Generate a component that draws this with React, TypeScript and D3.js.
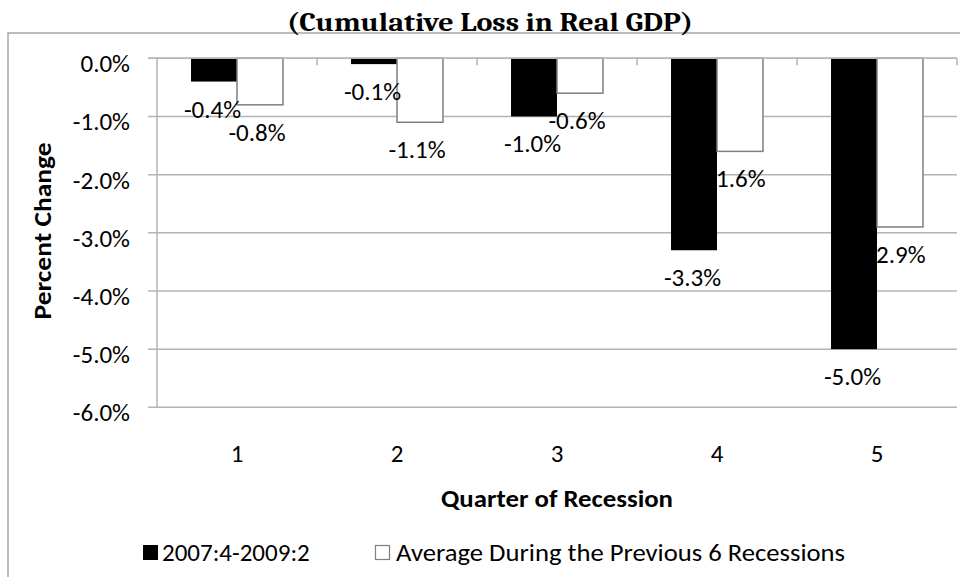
import React from "react";
import * as d3 from "d3";

// Quarters of the recession shown on the category axis
const quarters = ["1", "2", "3", "4", "5"];
// Cumulative change in real GDP (percent) for each series
const currentRecession = [-0.4, -0.1, -1.0, -3.3, -5.0];
const previousAverage = [-0.8, -1.1, -0.6, -1.6, -2.9];
const seriesNames = ["2007:4-2009:2", "Average During the Previous 6 Recessions"];
const yTicks = [0, -1, -2, -3, -4, -5, -6];

const W = 960;
const H = 577;
const FONT = "Carlito, Lato, 'Open Sans', sans-serif";
const TITLE_FONT = "Caladea, 'Liberation Serif', 'DejaVu Serif', serif";
const FS = 25;

export default function App() {
  const plot = { left: 157, right: 957, top: 58.3, bottom: 407.3 };

  const x0 = d3.scaleBand<string>().domain(quarters).range([plot.left, plot.right]).padding(0);
  const x1 = d3
    .scaleBand<string>()
    .domain(["cur", "avg"])
    .range([0, x0.bandwidth()])
    .paddingInner(0)
    .paddingOuter(0.74);
  const y = d3.scaleLinear().domain([-6, 0]).range([plot.bottom, plot.top]);

  const fmt = (v: number) => `${v.toFixed(1)}%`;

  const rows = quarters.map((q, i) => ({ q, cur: currentRecession[i], avg: previousAverage[i] }));

  const gridColor = "#b3b3b3";

  return (
    <svg
      width={W}
      height={H}
      viewBox={`0 0 ${W} ${H}`}
      style={{ position: "absolute", left: 0, top: 0, background: "#fff" }}
    >
      <rect x={0} y={0} width={W} height={H} fill="#fff" />
      {/* outer chart frame */}
      <path d={`M8,${H + 2} V33 H${W + 2}`} fill="none" stroke="#a6a6a6" strokeWidth={1.5} />

      {/* title */}
      <text
        x={490}
        y={31}
        textAnchor="middle"
        fontFamily={TITLE_FONT}
        fontWeight="bold"
        fontSize={27}
        textLength={406}
        lengthAdjust="spacingAndGlyphs"
        fill="#000"
      >
        (Cumulative Loss in Real GDP)
      </text>

      {/* horizontal gridlines and y tick labels */}
      {yTicks.map((t) => (
        <g key={t}>
          <line x1={148} x2={plot.right} y1={y(t)} y2={y(t)} stroke={gridColor} strokeWidth={1.5} />
          <text
            x={130}
            y={y(t) + 14}
            textAnchor="end"
            fontFamily={FONT}
            fontSize={FS}
            fill="#000"
          >
            {fmt(t)}
          </text>
        </g>
      ))}

      {/* vertical axis line */}
      <line x1={plot.left} x2={plot.left} y1={plot.top} y2={plot.bottom} stroke={gridColor} strokeWidth={1.5} />

      {/* category tick marks on the zero line */}
      {quarters.map((q) => {
        const xr = (x0(q) as number) + x0.bandwidth();
        return <line key={q} x1={xr} x2={xr} y1={y(0)} y2={y(0) + 7} stroke={gridColor} strokeWidth={1.5} />;
      })}

      {/* bars */}
      {rows.map((r) => {
        const bx = x0(r.q) as number;
        return (
          <g key={r.q}>
            <rect
              x={bx + (x1("cur") as number)}
              y={y(0)}
              width={x1.bandwidth()}
              height={y(r.cur) - y(0)}
              fill="#000"
            />
            <rect
              x={bx + (x1("avg") as number)}
              y={y(0)}
              width={x1.bandwidth()}
              height={y(r.avg) - y(0)}
              fill="#fff"
              stroke="#7f7f7f"
              strokeWidth={1.5}
            />
          </g>
        );
      })}

      {/* zero line drawn over bar tops */}
      <line x1={148} x2={plot.right} y1={y(0)} y2={y(0)} stroke={gridColor} strokeWidth={1.5} />

      {/* data labels */}
      {rows.map((r) => {
        const bx = x0(r.q) as number;
        return (
          <g key={`lab-${r.q}`} fontFamily={FONT} fontSize={FS} fill="#000" textAnchor="middle">
            <text x={bx + (x1("cur") as number) + x1.bandwidth() / 2 - 1.5} y={y(r.cur) + 36}>
              {fmt(r.cur)}
            </text>
            <text x={bx + (x1("avg") as number) + x1.bandwidth() / 2 - 3} y={y(r.avg) + 36}>
              {fmt(r.avg)}
            </text>
          </g>
        );
      })}

      {/* x tick labels */}
      {quarters.map((q) => (
        <text
          key={`xt-${q}`}
          x={(x0(q) as number) + x0.bandwidth() / 2}
          y={462}
          textAnchor="middle"
          fontFamily={FONT}
          fontSize={FS}
          fill="#000"
        >
          {q}
        </text>
      ))}

      {/* axis titles */}
      <text
        x={(plot.left + plot.right) / 2}
        y={507}
        textAnchor="middle"
        fontFamily={FONT}
        fontWeight="bold"
        fontSize={FS}
        textLength={232}
        lengthAdjust="spacingAndGlyphs"
        fill="#000"
      >
        Quarter of Recession
      </text>
      <text
        transform={`translate(51,231) rotate(-90)`}
        textAnchor="middle"
        fontFamily={FONT}
        fontWeight="bold"
        fontSize={FS}
        textLength={177}
        lengthAdjust="spacingAndGlyphs"
        fill="#000"
      >
        Percent Change
      </text>

      {/* legend */}
      <rect x={143} y={545} width={15} height={15} fill="#000" />
      <text x={162} y={561} fontFamily={FONT} fontSize={FS} fill="#000">
        {seriesNames[0]}
      </text>
      <rect x={375.5} y={545.5} width={14} height={14} fill="#fff" stroke="#7f7f7f" strokeWidth={1.2} />
      <text
        x={396}
        y={561}
        fontFamily={FONT}
        fontSize={FS}
        textLength={449}
        lengthAdjust="spacingAndGlyphs"
        fill="#000"
      >
        {seriesNames[1]}
      </text>
    </svg>
  );
}
